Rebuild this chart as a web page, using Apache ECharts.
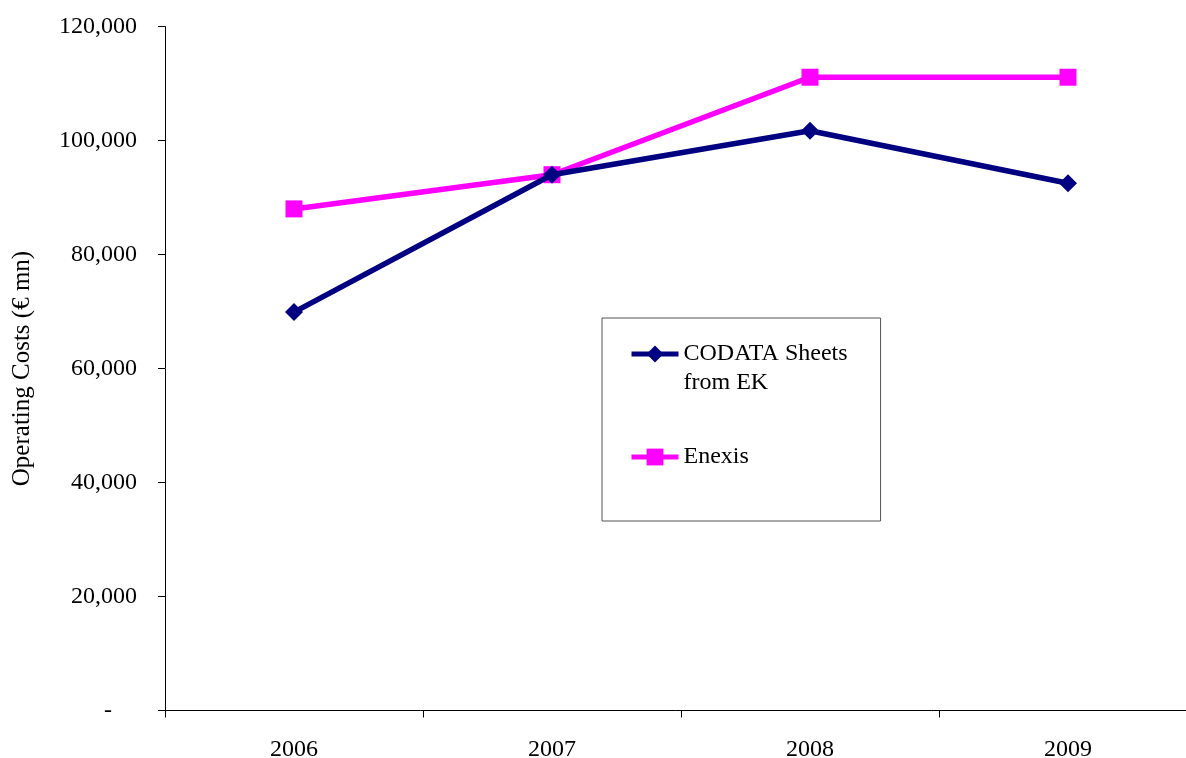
<!DOCTYPE html>
<html>
<head>
<meta charset="utf-8">
<script src="https://cdn.jsdelivr.net/npm/echarts@6/dist/echarts.min.js"></script>
<style>
html,body{margin:0;padding:0;background:#fff;}
#chart{width:1186px;height:758px;}
</style>
</head>
<body>
<div id="chart"></div>
<script>
var categories = ['2006', '2007', '2008', '2009'];
var codataValues = [69900, 94000, 101700, 92500];
var enexisValues = [88000, 94000, 111100, 111100];
var yTicks = [0, 20000, 40000, 60000, 80000, 100000, 120000];
var seriesNames = ['CODATA Sheets\nfrom EK', 'Enexis'];

var FONT = '"Liberation Serif", "Times New Roman", serif';
var chart = echarts.init(document.getElementById('chart'));
chart.setOption({
  backgroundColor: '#ffffff',
  animation: false,
  grid: { left: 165, width: 1032, top: 26.5, bottom: 47.5, containLabel: false, outerBoundsMode: 'none' },
  legend: {
    orient: 'vertical',
    left: 602,
    top: 318,
    padding: [-7.5, 33, 49.5, 27],
    itemGap: 45,
    itemWidth: 47,
    itemHeight: 21,
    borderColor: '#555555',
    borderWidth: 1,
    backgroundColor: '#ffffff',
    lineStyle: { width: 5 },
    textStyle: { fontFamily: FONT, fontSize: 24, color: '#000', lineHeight: 29 },
    formatter: function (name) {
      return name === seriesNames[0] ? ' \n' + name : name;
    },
    data: seriesNames
  },
  xAxis: {
    type: 'category',
    data: categories,
    boundaryGap: true,
    axisLine: { lineStyle: { color: '#000', width: 1 } },
    axisTick: { show: true, length: 7, inside: false, interval: 0, lineStyle: { color: '#000' } },
    axisLabel: { fontFamily: FONT, fontSize: 24, color: '#000', margin: 27, interval: 0 },
    splitLine: { show: false }
  },
  yAxis: {
    type: 'value',
    min: yTicks[0],
    max: yTicks[yTicks.length - 1],
    interval: yTicks[1] - yTicks[0],
    name: 'Operating Costs (€ mn)',
    nameLocation: 'middle',
    nameGap: 130,
    nameTextStyle: { fontFamily: FONT, fontSize: 25, color: '#000' },
    axisLine: { show: true, lineStyle: { color: '#000', width: 1 } },
    axisTick: { show: true, length: 7, inside: false, lineStyle: { color: '#000' } },
    axisLabel: {
      fontFamily: FONT, fontSize: 24, color: '#000', margin: 28,
      formatter: function (v) {
        if (v === 0) return '{z|-}';
        return v.toString().replace(/\B(?=(\d{3})+(?!\d))/g, ',');
      },
      rich: { z: { fontFamily: FONT, fontSize: 24, color: '#000', padding: [0, 25, 0, 0] } }
    },
    splitLine: { show: false }
  },
  series: [
    {
      name: seriesNames[0],
      type: 'line',
      data: codataValues,
      symbol: 'diamond',
      symbolSize: 18,
      lineStyle: { color: '#000080', width: 5.5 },
      itemStyle: { color: '#000080' },
      z: 3
    },
    {
      name: seriesNames[1],
      type: 'line',
      data: enexisValues,
      symbol: 'rect',
      symbolSize: 17,
      lineStyle: { color: '#ff00ff', width: 5.5 },
      itemStyle: { color: '#ff00ff' },
      z: 2
    }
  ]
});
</script>
</body>
</html>
